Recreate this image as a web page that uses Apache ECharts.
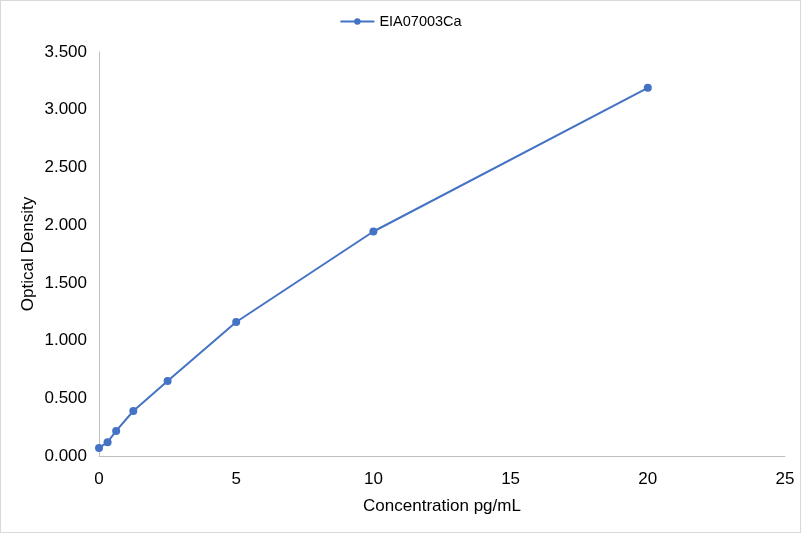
<!DOCTYPE html>
<html>
<head>
<meta charset="utf-8">
<script src="https://cdn.jsdelivr.net/npm/echarts@6/dist/echarts.min.js"></script>
<style>
html, body { margin: 0; padding: 0; background: #fff; }
#chart { width: 799px; height: 531px; border: 1px solid #d9d9d9; }
</style>
</head>
<body>
<div id="chart"></div>
<script>
var seriesName = 'EIA07003Ca';
var concentrations = [0, 0.3125, 0.625, 1.25, 2.5, 5, 10, 20];
var densities = [0.069, 0.12, 0.217, 0.39, 0.65, 1.161, 1.945, 3.19];

var points = concentrations.map(function (c, i) { return [c, densities[i]]; });
var font = 'Liberation Sans, Arial';

var chart = echarts.init(document.getElementById('chart'));
chart.setOption({
    animation: false,
    legend: {
        top: 8,
        left: 'center',
        itemWidth: 34,
        itemHeight: 8,
        textStyle: { color: '#000', fontSize: 14.5, fontFamily: font },
        data: [seriesName]
    },
    grid: { left: 98, right: 15, top: 51, bottom: 76 },
    xAxis: {
        type: 'value',
        min: 0, max: 25, interval: 5,
        name: 'Concentration pg/mL',
        nameLocation: 'middle',
        nameGap: 42,
        nameMoveOverlap: false,
        nameTextStyle: { color: '#000', fontSize: 17, fontFamily: font },
        axisLine: { lineStyle: { color: '#bfbfbf' } },
        axisTick: { show: false },
        splitLine: { show: false },
        axisLabel: { color: '#000', fontSize: 17, fontFamily: font, margin: 15 }
    },
    yAxis: {
        type: 'value',
        min: 0, max: 3.5, interval: 0.5,
        name: 'Optical Density',
        nameLocation: 'middle',
        nameGap: 62,
        nameMoveOverlap: false,
        nameTextStyle: { color: '#000', fontSize: 17, fontFamily: font },
        axisLine: { show: true, lineStyle: { color: '#bfbfbf' } },
        axisTick: { show: false },
        splitLine: { show: false },
        axisLabel: {
            color: '#000', fontSize: 17, fontFamily: font, margin: 12,
            formatter: function (v) { return v.toFixed(3); }
        }
    },
    series: [{
        name: seriesName,
        type: 'line',
        data: points,
        symbol: 'circle',
        symbolSize: 8,
        itemStyle: { color: '#4472c4' },
        lineStyle: { color: '#4472c4', width: 2 }
    }]
});
</script>
</body>
</html>
